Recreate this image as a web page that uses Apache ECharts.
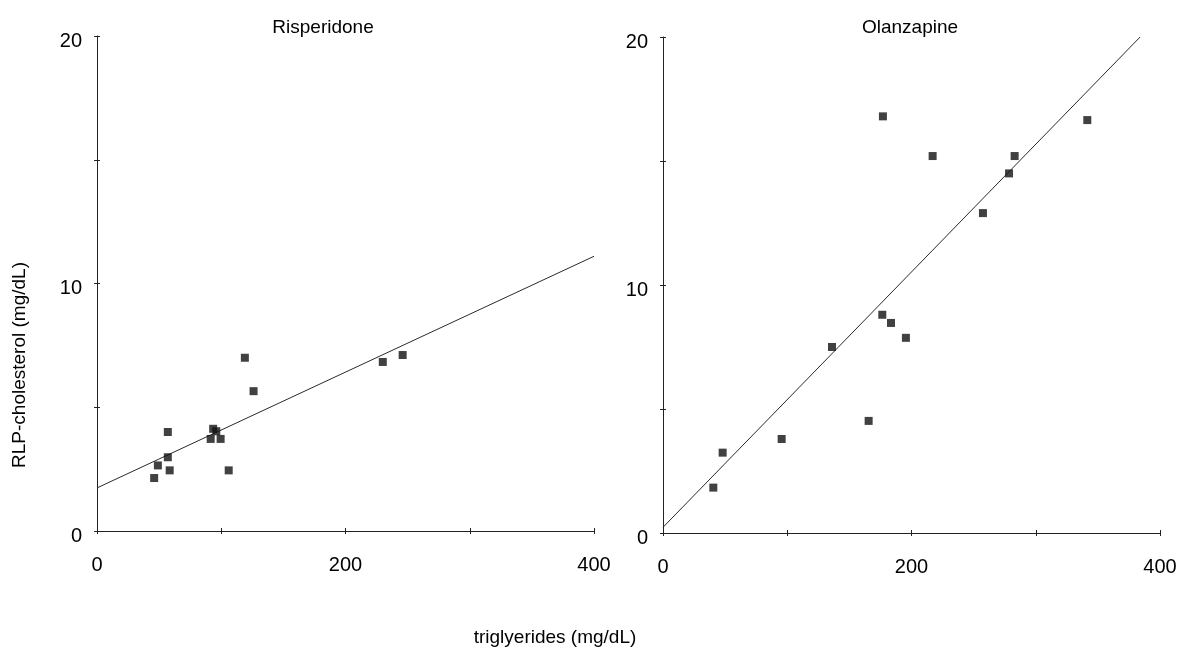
<!DOCTYPE html>
<html><head><meta charset="utf-8">
<script src="https://cdn.jsdelivr.net/npm/echarts@6/dist/echarts.min.js"></script>
<style>html,body{margin:0;padding:0;background:#fff}#c{width:1183px;height:650px}</style>
</head><body><div id="c"></div>
<script>
// ---- data ----
const panelTitles = ['Risperidone', 'Olanzapine'];
const xAxisTitle = 'triglyerides (mg/dL)';
const yAxisTitle = 'RLP-cholesterol (mg/dL)';
const xLabelValues = [0, 200, 400];
const yLabelValues = [0, 10, 20];

const risperidonePoints = [
  [46, 2.14], [49, 2.65], [57, 4.0], [57, 2.98], [58.5, 2.45],
  [91.5, 3.72], [93.5, 4.13], [96, 4.03], [99.5, 3.72], [106, 2.45],
  [126, 5.65], [119, 7.0], [230, 6.83], [246, 7.11]
];
const olanzapinePoints = [
  [40.5, 1.83], [48, 3.24], [95.5, 3.79], [165.5, 4.52], [136, 7.5],
  [176.5, 8.8], [183.5, 8.47], [195.5, 7.87], [257.5, 12.9], [177, 16.8],
  [217, 15.2], [278.5, 14.5], [283, 15.2], [341.5, 16.65]
];
const risperidoneFit = [[0, 1.74], [400, 11.1]];
const olanzapineFit = [[0, 0.23], [384, 20]];

// ---- chart ----
const FONT = '"Liberation Sans", Arial, sans-serif';
const INK = '#222';
const chart = echarts.init(document.getElementById('c'), null, {renderer: 'canvas'});

const grids = [
  {left: 97, top: 36, width: 497, height: 495},
  {left: 663, top: 37, width: 497, height: 496}
];

const xAxes = [], yAxes = [];
grids.forEach((g, i) => {
  xAxes.push({
    type: 'value', gridIndex: i, min: 0, max: 400, interval: 100, position: 'bottom',
    axisLine: {show: true, onZero: false, lineStyle: {color: INK, width: 1}},
    axisTick: {show: true, length: 3, lineStyle: {color: INK}},
    splitLine: {show: false},
    axisLabel: {
      show: true, margin: 24, fontSize: 20, color: '#000', fontFamily: FONT,
      formatter: v => xLabelValues.includes(v) ? String(v) : ''
    }
  });
  xAxes.push({
    type: 'value', gridIndex: i, min: 0, max: 400, interval: 100, position: 'bottom',
    axisLine: {show: false, onZero: false},
    axisTick: {show: true, inside: true, length: 3, lineStyle: {color: INK}},
    splitLine: {show: false}, axisLabel: {show: false}
  });
  yAxes.push({
    type: 'value', gridIndex: i, min: 0, max: 20, interval: 5, position: 'left',
    axisLine: {show: true, onZero: false, lineStyle: {color: INK, width: 1}},
    axisTick: {show: true, length: 3, lineStyle: {color: INK}},
    splitLine: {show: false},
    axisLabel: {
      show: true, margin: 15, fontSize: 20, color: '#000', fontFamily: FONT,
      verticalAlign: 'top', lineHeight: 10,
      formatter: v => yLabelValues.includes(v) ? String(v) : ''
    }
  });
  yAxes.push({
    type: 'value', gridIndex: i, min: 0, max: 20, interval: 5, position: 'left',
    axisLine: {show: false, onZero: false},
    axisTick: {show: true, inside: true, length: 3, lineStyle: {color: INK}},
    splitLine: {show: false}, axisLabel: {show: false}
  });
});

const pointSets = [risperidonePoints, olanzapinePoints];
const fitSets = [risperidoneFit, olanzapineFit];
const series = [];
pointSets.forEach((pts, i) => {
  series.push({
    type: 'line', xAxisIndex: i * 2, yAxisIndex: i * 2, data: fitSets[i],
    showSymbol: false, symbol: 'none', silent: true,
    lineStyle: {color: '#2a2a2a', width: 1}, z: 2
  });
  series.push({
    type: 'scatter', xAxisIndex: i * 2, yAxisIndex: i * 2, data: pts,
    symbol: 'rect', symbolSize: 8, itemStyle: {color: '#111'}, z: 3
  });
});

chart.setOption({
  backgroundColor: '#fff',
  animation: false,
  title: panelTitles.map((t, i) => ({
    text: t, left: i === 0 ? 318 : 905, top: 13, textAlign: 'center',
    textStyle: {fontSize: 19, fontWeight: 'normal', color: '#000', fontFamily: FONT}
  })),
  grid: grids,
  xAxis: xAxes,
  yAxis: yAxes,
  series: series,
  graphic: [
    {type: 'text', x: 555, y: 638, style: {text: xAxisTitle, font: '19px ' + FONT, fill: '#000', align: 'center', verticalAlign: 'middle'}},
    {type: 'text', x: 20, y: 365, rotation: Math.PI / 2,
     style: {text: yAxisTitle, font: '19px ' + FONT, fill: '#000', align: 'center', verticalAlign: 'middle'}}
  ]
});
</script>
</body></html>
